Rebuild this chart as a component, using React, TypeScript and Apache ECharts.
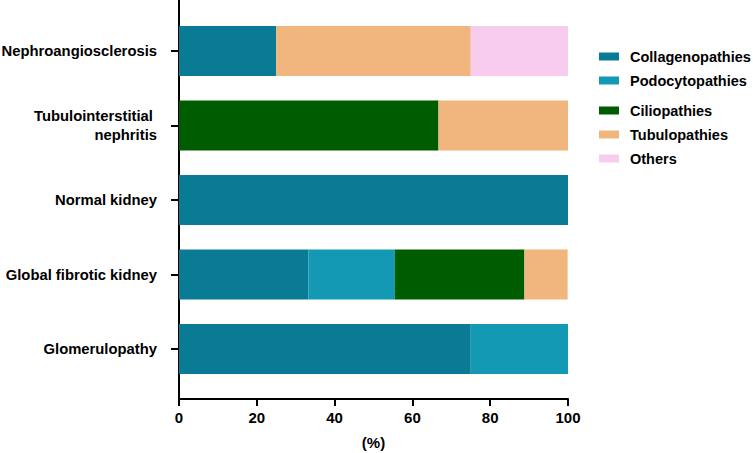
import React, { useEffect, useRef } from "react";
import * as echarts from "echarts";

const categories = [
  "Glomerulopathy",
  "Global fibrotic kidney",
  "Normal kidney",
  "Tubulointerstitial \nnephritis",
  "Nephroangiosclerosis",
];
const seriesNames = ["Collagenopathies", "Podocytopathies", "Ciliopathies", "Tubulopathies", "Others"];
const collagenopathies = [75, 33.3, 100, 0, 25];
const podocytopathies = [25, 22.2, 0, 0, 0];
const ciliopathies = [0, 33.3, 0, 66.7, 0];
const tubulopathies = [0, 11.1, 0, 33.3, 50];
const others = [0, 0, 0, 0, 25];
const xTicks = [0, 20, 40, 60, 80, 100];

const colors = ["#0A7B94", "#1399B4", "#005C00", "#F0B67E", "#F8CCEE"];
const FONT = "'Liberation Sans', Arial, Helvetica, sans-serif";

export default function App() {
  const ref = useRef<HTMLDivElement>(null);
  useEffect(() => {
    if (!ref.current) return;
    const chart = echarts.init(ref.current, null, { renderer: "svg" });
    const values = [collagenopathies, podocytopathies, ciliopathies, tubulopathies, others];
    const textStyle = { fontFamily: FONT, fontWeight: "bold" as const, fontSize: 15, color: "#000" };
    const legendText = { ...textStyle, fontSize: 14.5, padding: [0, 0, 0, 6] };
    chart.setOption({
      animation: false,
      backgroundColor: "#fff",
      grid: [
        { left: 179, top: 0, width: 389, height: 399, outerBoundsMode: "none", containLabel: false },
        { left: 179, top: 13.75, width: 389, height: 372.5, outerBoundsMode: "none", containLabel: false },
      ],
      legend: [
        {
          data: seriesNames.slice(0, 2),
          orient: "vertical",
          left: 599,
          top: 49,
          padding: 0,
          itemWidth: 20,
          itemHeight: 8,
          itemGap: 9,
          icon: "rect",
          textStyle: legendText,
        },
        {
          data: seriesNames.slice(2),
          orient: "vertical",
          left: 599,
          top: 103,
          padding: 0,
          itemWidth: 20,
          itemHeight: 8,
          itemGap: 9,
          icon: "rect",
          textStyle: legendText,
        },
      ],
      xAxis: [
        {
          type: "value",
          gridIndex: 0,
          min: xTicks[0],
          max: xTicks[xTicks.length - 1],
          interval: 20,
          name: "(%)",
          nameLocation: "middle",
          nameGap: 36,
          nameTextStyle: textStyle,
          axisLine: { show: true, lineStyle: { color: "#000", width: 2 } },
          axisTick: { show: true, length: 7, lineStyle: { color: "#000", width: 2 } },
          axisLabel: { ...textStyle, margin: 11 },
          splitLine: { show: false },
        },
        {
          type: "value",
          gridIndex: 1,
          min: 0,
          max: 100,
          show: false,
          splitLine: { show: false },
        },
      ],
      yAxis: [
        {
          type: "value",
          gridIndex: 0,
          min: 0,
          max: 1,
          axisLine: { show: true, lineStyle: { color: "#000", width: 2 } },
          axisTick: { show: false },
          axisLabel: { show: false },
          splitLine: { show: false },
        },
        {
          type: "category",
          gridIndex: 1,
          data: categories,
          axisLine: { show: false },
          axisTick: { show: true, alignWithLabel: true, length: 8, lineStyle: { color: "#000", width: 2 } },
          axisLabel: { ...textStyle, fontSize: 14.8, margin: 22, lineHeight: 19, align: "right" },
          splitLine: { show: false },
        },
      ],
      series: seriesNames.map((name, i) => ({
        name,
        type: "bar",
        stack: "total",
        xAxisIndex: 1,
        yAxisIndex: 1,
        barWidth: 50,
        itemStyle: { color: colors[i] },
        data: values[i],
      })),
    });
    return () => chart.dispose();
  }, []);
  return (
    <div
      ref={ref}
      style={{ position: "fixed", left: 0, top: 0, width: 753, height: 453, background: "#fff" }}
    />
  );
}
